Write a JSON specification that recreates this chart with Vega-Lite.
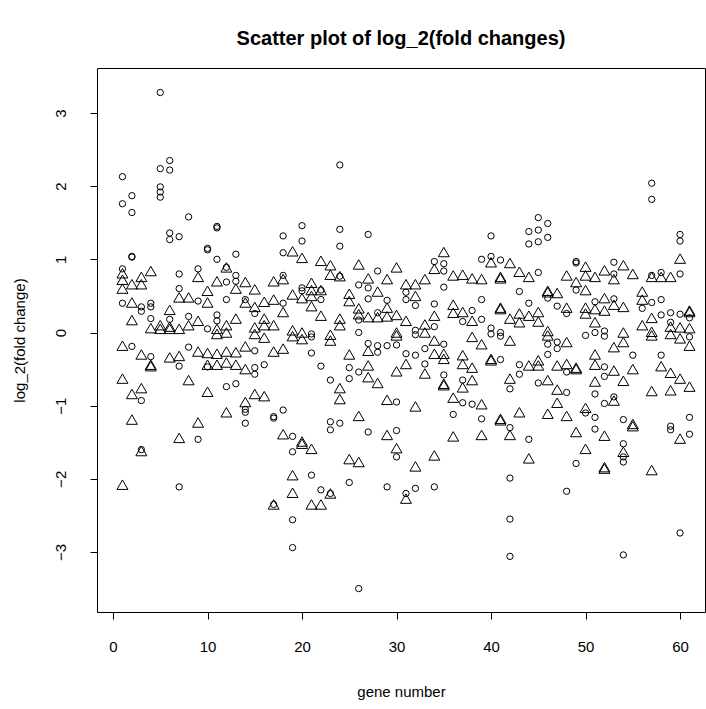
{
  "$schema": "https://vega.github.io/schema/vega-lite/v6.json",
  "width": 608,
  "height": 544,
  "autosize": {"type": "none"},
  "padding": {"left": 97, "top": 68, "right": 1, "bottom": 97},
  "background": "white",
  "config": {"view": {"stroke": "#000", "strokeWidth": 1}, "font": "Liberation Sans"},
  "title": {"text": "Scatter plot of log_2(fold changes)", "fontSize": 20, "fontWeight": "bold", "color": "#000", "offset": 19, "font": "Liberation Sans"},
  "datasets": {
    "pts": [
      {"gene":1,"lfc":2.13,"pch":"c"},{"gene":1,"lfc":1.76,"pch":"c"},{"gene":1,"lfc":0.87,"pch":"c"},{"gene":1,"lfc":0.40,"pch":"c"},
      {"gene":1,"lfc":0.81,"pch":"t"},{"gene":1,"lfc":0.72,"pch":"t"},{"gene":1,"lfc":0.60,"pch":"t"},{"gene":1,"lfc":-0.18,"pch":"t"},{"gene":1,"lfc":-0.63,"pch":"t"},{"gene":1,"lfc":-2.08,"pch":"t"},
      {"gene":2,"lfc":1.87,"pch":"c"},{"gene":2,"lfc":1.64,"pch":"c"},{"gene":2,"lfc":1.03,"pch":"c"},{"gene":2,"lfc":1.04,"pch":"c"},{"gene":2,"lfc":-0.19,"pch":"c"},
      {"gene":2,"lfc":0.66,"pch":"t"},{"gene":2,"lfc":0.41,"pch":"t"},{"gene":2,"lfc":0.17,"pch":"t"},{"gene":2,"lfc":-0.84,"pch":"t"},{"gene":2,"lfc":-1.19,"pch":"t"},
      {"gene":3,"lfc":0.35,"pch":"c"},{"gene":3,"lfc":0.29,"pch":"c"},{"gene":3,"lfc":-0.93,"pch":"c"},{"gene":3,"lfc":-1.60,"pch":"c"},
      {"gene":3,"lfc":0.76,"pch":"t"},{"gene":3,"lfc":0.66,"pch":"t"},{"gene":3,"lfc":-0.30,"pch":"t"},{"gene":3,"lfc":-0.76,"pch":"t"},{"gene":3,"lfc":-1.62,"pch":"t"},
      {"gene":4,"lfc":0.40,"pch":"c"},{"gene":4,"lfc":0.35,"pch":"c"},{"gene":4,"lfc":0.19,"pch":"c"},{"gene":4,"lfc":-0.33,"pch":"c"},
      {"gene":4,"lfc":0.84,"pch":"t"},{"gene":4,"lfc":0.06,"pch":"t"},{"gene":4,"lfc":-0.46,"pch":"t"},{"gene":4,"lfc":-0.44,"pch":"t"},
      {"gene":5,"lfc":3.28,"pch":"c"},{"gene":5,"lfc":2.24,"pch":"c"},{"gene":5,"lfc":1.99,"pch":"c"},{"gene":5,"lfc":1.92,"pch":"c"},{"gene":5,"lfc":1.85,"pch":"c"},
      {"gene":5,"lfc":0.10,"pch":"t"},{"gene":5,"lfc":0.05,"pch":"t"},
      {"gene":6,"lfc":2.35,"pch":"c"},{"gene":6,"lfc":2.22,"pch":"c"},{"gene":6,"lfc":1.36,"pch":"c"},{"gene":6,"lfc":1.27,"pch":"c"},{"gene":6,"lfc":0.18,"pch":"c"},
      {"gene":6,"lfc":0.31,"pch":"t"},{"gene":6,"lfc":0.08,"pch":"t"},{"gene":6,"lfc":-0.34,"pch":"t"},{"gene":6,"lfc":0.05,"pch":"t"},
      {"gene":7,"lfc":1.31,"pch":"c"},{"gene":7,"lfc":0.80,"pch":"c"},{"gene":7,"lfc":0.60,"pch":"c"},{"gene":7,"lfc":-0.46,"pch":"c"},{"gene":7,"lfc":-2.11,"pch":"c"},
      {"gene":7,"lfc":0.48,"pch":"t"},{"gene":7,"lfc":-0.32,"pch":"t"},{"gene":7,"lfc":-1.44,"pch":"t"},{"gene":7,"lfc":0.05,"pch":"t"},
      {"gene":8,"lfc":1.58,"pch":"c"},{"gene":8,"lfc":0.22,"pch":"c"},{"gene":8,"lfc":-0.20,"pch":"c"},
      {"gene":8,"lfc":0.48,"pch":"t"},{"gene":8,"lfc":0.10,"pch":"t"},{"gene":8,"lfc":-0.65,"pch":"t"},
      {"gene":9,"lfc":0.87,"pch":"c"},{"gene":9,"lfc":0.43,"pch":"c"},{"gene":9,"lfc":-1.46,"pch":"c"},
      {"gene":9,"lfc":0.76,"pch":"t"},{"gene":9,"lfc":0.16,"pch":"t"},{"gene":9,"lfc":-0.26,"pch":"t"},{"gene":9,"lfc":-1.23,"pch":"t"},
      {"gene":10,"lfc":1.13,"pch":"c"},{"gene":10,"lfc":1.15,"pch":"c"},{"gene":10,"lfc":0.05,"pch":"c"},{"gene":10,"lfc":-0.47,"pch":"c"},
      {"gene":10,"lfc":0.57,"pch":"t"},{"gene":10,"lfc":0.41,"pch":"t"},{"gene":10,"lfc":-0.28,"pch":"t"},{"gene":10,"lfc":-0.44,"pch":"t"},{"gene":10,"lfc":-0.81,"pch":"t"},
      {"gene":11,"lfc":1.43,"pch":"c"},{"gene":11,"lfc":1.45,"pch":"c"},{"gene":11,"lfc":1.00,"pch":"c"},{"gene":11,"lfc":0.24,"pch":"c"},{"gene":11,"lfc":0.16,"pch":"c"},
      {"gene":11,"lfc":0.70,"pch":"t"},{"gene":11,"lfc":0.05,"pch":"t"},{"gene":11,"lfc":-0.02,"pch":"t"},{"gene":11,"lfc":-0.29,"pch":"t"},{"gene":11,"lfc":-0.44,"pch":"t"},
      {"gene":12,"lfc":0.89,"pch":"c"},{"gene":12,"lfc":0.69,"pch":"c"},{"gene":12,"lfc":0.45,"pch":"c"},{"gene":12,"lfc":-0.74,"pch":"c"},
      {"gene":12,"lfc":0.89,"pch":"t"},{"gene":12,"lfc":0.10,"pch":"t"},{"gene":12,"lfc":0.00,"pch":"t"},{"gene":12,"lfc":-0.26,"pch":"t"},{"gene":12,"lfc":-0.41,"pch":"t"},{"gene":12,"lfc":-1.09,"pch":"t"},
      {"gene":13,"lfc":1.07,"pch":"c"},{"gene":13,"lfc":0.78,"pch":"c"},{"gene":13,"lfc":0.70,"pch":"c"},{"gene":13,"lfc":-0.70,"pch":"c"},
      {"gene":13,"lfc":0.60,"pch":"t"},{"gene":13,"lfc":0.19,"pch":"t"},{"gene":13,"lfc":-0.27,"pch":"t"},{"gene":13,"lfc":-0.44,"pch":"t"},
      {"gene":14,"lfc":0.45,"pch":"c"},{"gene":14,"lfc":-1.05,"pch":"c"},{"gene":14,"lfc":-1.09,"pch":"c"},{"gene":14,"lfc":-1.24,"pch":"c"},
      {"gene":14,"lfc":0.69,"pch":"t"},{"gene":14,"lfc":0.41,"pch":"t"},{"gene":14,"lfc":-0.19,"pch":"t"},{"gene":14,"lfc":-0.50,"pch":"t"},{"gene":14,"lfc":-0.95,"pch":"t"},
      {"gene":15,"lfc":0.26,"pch":"c"},{"gene":15,"lfc":-0.25,"pch":"c"},{"gene":15,"lfc":-0.48,"pch":"c"},{"gene":15,"lfc":-0.57,"pch":"c"},
      {"gene":15,"lfc":0.59,"pch":"t"},{"gene":15,"lfc":0.35,"pch":"t"},{"gene":15,"lfc":0.07,"pch":"t"},{"gene":15,"lfc":-0.02,"pch":"t"},{"gene":15,"lfc":-0.84,"pch":"t"},
      {"gene":16,"lfc":-0.44,"pch":"c"},
      {"gene":16,"lfc":0.42,"pch":"t"},{"gene":16,"lfc":0.19,"pch":"t"},{"gene":16,"lfc":0.10,"pch":"t"},{"gene":16,"lfc":-0.07,"pch":"t"},{"gene":16,"lfc":-0.87,"pch":"t"},
      {"gene":17,"lfc":-1.17,"pch":"c"},{"gene":17,"lfc":-1.15,"pch":"c"},{"gene":17,"lfc":-2.35,"pch":"c"},
      {"gene":17,"lfc":0.70,"pch":"t"},{"gene":17,"lfc":0.45,"pch":"t"},{"gene":17,"lfc":0.10,"pch":"t"},{"gene":17,"lfc":-0.26,"pch":"t"},{"gene":17,"lfc":-2.35,"pch":"t"},
      {"gene":18,"lfc":1.32,"pch":"c"},{"gene":18,"lfc":1.09,"pch":"c"},{"gene":18,"lfc":0.78,"pch":"c"},{"gene":18,"lfc":0.40,"pch":"c"},{"gene":18,"lfc":-1.06,"pch":"c"},
      {"gene":18,"lfc":0.73,"pch":"t"},{"gene":18,"lfc":0.28,"pch":"t"},{"gene":18,"lfc":-0.22,"pch":"t"},{"gene":18,"lfc":-1.39,"pch":"t"},
      {"gene":19,"lfc":-1.42,"pch":"c"},{"gene":19,"lfc":-1.63,"pch":"c"},{"gene":19,"lfc":-2.56,"pch":"c"},{"gene":19,"lfc":-2.94,"pch":"c"},
      {"gene":19,"lfc":1.11,"pch":"t"},{"gene":19,"lfc":0.52,"pch":"t"},{"gene":19,"lfc":0.03,"pch":"t"},{"gene":19,"lfc":-0.05,"pch":"t"},{"gene":19,"lfc":-1.95,"pch":"t"},{"gene":19,"lfc":-2.19,"pch":"t"},
      {"gene":20,"lfc":1.46,"pch":"c"},{"gene":20,"lfc":1.25,"pch":"c"},{"gene":20,"lfc":0.61,"pch":"c"},{"gene":20,"lfc":0.57,"pch":"c"},
      {"gene":20,"lfc":1.02,"pch":"t"},{"gene":20,"lfc":0.47,"pch":"t"},{"gene":20,"lfc":0.00,"pch":"t"},{"gene":20,"lfc":-0.09,"pch":"t"},{"gene":20,"lfc":-1.49,"pch":"t"},{"gene":20,"lfc":-1.52,"pch":"t"},
      {"gene":21,"lfc":-0.02,"pch":"c"},{"gene":21,"lfc":-0.06,"pch":"c"},{"gene":21,"lfc":-0.28,"pch":"c"},{"gene":21,"lfc":-1.95,"pch":"c"},
      {"gene":21,"lfc":0.68,"pch":"t"},{"gene":21,"lfc":0.58,"pch":"t"},{"gene":21,"lfc":0.50,"pch":"t"},{"gene":21,"lfc":0.36,"pch":"t"},{"gene":21,"lfc":-1.59,"pch":"t"},{"gene":21,"lfc":-2.35,"pch":"t"},
      {"gene":22,"lfc":0.58,"pch":"c"},{"gene":22,"lfc":0.45,"pch":"c"},{"gene":22,"lfc":-0.46,"pch":"c"},{"gene":22,"lfc":-2.15,"pch":"c"},
      {"gene":22,"lfc":0.98,"pch":"t"},{"gene":22,"lfc":0.58,"pch":"t"},{"gene":22,"lfc":0.23,"pch":"t"},{"gene":22,"lfc":-2.35,"pch":"t"},
      {"gene":23,"lfc":-0.65,"pch":"c"},{"gene":23,"lfc":-1.22,"pch":"c"},{"gene":23,"lfc":-1.33,"pch":"c"},{"gene":23,"lfc":-2.20,"pch":"c"},
      {"gene":23,"lfc":0.92,"pch":"t"},{"gene":23,"lfc":0.79,"pch":"t"},{"gene":23,"lfc":-0.03,"pch":"t"},{"gene":23,"lfc":-0.11,"pch":"t"},{"gene":23,"lfc":-2.20,"pch":"t"},
      {"gene":24,"lfc":2.29,"pch":"c"},{"gene":24,"lfc":1.41,"pch":"c"},{"gene":24,"lfc":1.18,"pch":"c"},{"gene":24,"lfc":0.77,"pch":"c"},{"gene":24,"lfc":-1.24,"pch":"c"},
      {"gene":24,"lfc":0.77,"pch":"t"},{"gene":24,"lfc":0.19,"pch":"t"},{"gene":24,"lfc":0.10,"pch":"t"},{"gene":24,"lfc":-0.76,"pch":"t"},{"gene":24,"lfc":-0.91,"pch":"t"},
      {"gene":25,"lfc":-0.48,"pch":"c"},{"gene":25,"lfc":-0.63,"pch":"c"},{"gene":25,"lfc":-2.05,"pch":"c"},
      {"gene":25,"lfc":0.53,"pch":"t"},{"gene":25,"lfc":0.43,"pch":"t"},{"gene":25,"lfc":-0.30,"pch":"t"},{"gene":25,"lfc":-1.73,"pch":"t"},
      {"gene":26,"lfc":0.65,"pch":"c"},{"gene":26,"lfc":0.17,"pch":"c"},{"gene":26,"lfc":0.00,"pch":"c"},{"gene":26,"lfc":-0.54,"pch":"c"},{"gene":26,"lfc":-3.50,"pch":"c"},
      {"gene":26,"lfc":0.93,"pch":"t"},{"gene":26,"lfc":0.33,"pch":"t"},{"gene":26,"lfc":0.25,"pch":"t"},{"gene":26,"lfc":-1.14,"pch":"t"},{"gene":26,"lfc":-1.77,"pch":"t"},
      {"gene":27,"lfc":1.34,"pch":"c"},{"gene":27,"lfc":0.61,"pch":"c"},{"gene":27,"lfc":0.46,"pch":"c"},{"gene":27,"lfc":-0.15,"pch":"c"},{"gene":27,"lfc":-1.36,"pch":"c"},
      {"gene":27,"lfc":0.74,"pch":"t"},{"gene":27,"lfc":0.21,"pch":"t"},{"gene":27,"lfc":-0.25,"pch":"t"},{"gene":27,"lfc":-0.45,"pch":"t"},{"gene":27,"lfc":-0.61,"pch":"t"},
      {"gene":28,"lfc":0.84,"pch":"c"},{"gene":28,"lfc":0.27,"pch":"c"},{"gene":28,"lfc":-0.18,"pch":"c"},{"gene":28,"lfc":-0.27,"pch":"c"},
      {"gene":28,"lfc":0.56,"pch":"t"},{"gene":28,"lfc":0.21,"pch":"t"},{"gene":28,"lfc":-0.69,"pch":"t"},
      {"gene":29,"lfc":0.44,"pch":"c"},{"gene":29,"lfc":-0.18,"pch":"c"},{"gene":29,"lfc":-2.11,"pch":"c"},
      {"gene":29,"lfc":0.73,"pch":"t"},{"gene":29,"lfc":0.34,"pch":"t"},{"gene":29,"lfc":0.22,"pch":"t"},{"gene":29,"lfc":-0.92,"pch":"t"},{"gene":29,"lfc":-1.40,"pch":"t"},
      {"gene":30,"lfc":-0.17,"pch":"c"},{"gene":30,"lfc":-0.95,"pch":"c"},{"gene":30,"lfc":-1.34,"pch":"c"},{"gene":30,"lfc":-1.70,"pch":"c"},
      {"gene":30,"lfc":0.89,"pch":"t"},{"gene":30,"lfc":0.24,"pch":"t"},{"gene":30,"lfc":0.00,"pch":"t"},{"gene":30,"lfc":-0.04,"pch":"t"},{"gene":30,"lfc":-0.53,"pch":"t"},{"gene":30,"lfc":-1.58,"pch":"t"},
      {"gene":31,"lfc":0.55,"pch":"c"},{"gene":31,"lfc":0.45,"pch":"c"},{"gene":31,"lfc":-0.29,"pch":"c"},{"gene":31,"lfc":-2.20,"pch":"c"},
      {"gene":31,"lfc":0.66,"pch":"t"},{"gene":31,"lfc":0.16,"pch":"t"},{"gene":31,"lfc":-0.43,"pch":"t"},{"gene":31,"lfc":-2.27,"pch":"t"},
      {"gene":32,"lfc":0.37,"pch":"c"},{"gene":32,"lfc":0.03,"pch":"c"},{"gene":32,"lfc":-0.03,"pch":"c"},{"gene":32,"lfc":-0.31,"pch":"c"},{"gene":32,"lfc":-2.13,"pch":"c"},
      {"gene":32,"lfc":0.66,"pch":"t"},{"gene":32,"lfc":0.50,"pch":"t"},{"gene":32,"lfc":-1.01,"pch":"t"},{"gene":32,"lfc":-1.83,"pch":"t"},
      {"gene":33,"lfc":-0.22,"pch":"c"},{"gene":33,"lfc":-0.43,"pch":"c"},
      {"gene":33,"lfc":0.73,"pch":"t"},{"gene":33,"lfc":0.11,"pch":"t"},{"gene":33,"lfc":0.00,"pch":"t"},{"gene":33,"lfc":-0.56,"pch":"t"},
      {"gene":34,"lfc":0.97,"pch":"c"},{"gene":34,"lfc":0.39,"pch":"c"},{"gene":34,"lfc":0.08,"pch":"c"},{"gene":34,"lfc":-2.11,"pch":"c"},
      {"gene":34,"lfc":0.87,"pch":"t"},{"gene":34,"lfc":0.23,"pch":"t"},{"gene":34,"lfc":-0.11,"pch":"t"},{"gene":34,"lfc":-0.29,"pch":"t"},{"gene":34,"lfc":-1.68,"pch":"t"},
      {"gene":35,"lfc":0.94,"pch":"c"},{"gene":35,"lfc":0.84,"pch":"c"},{"gene":35,"lfc":0.62,"pch":"c"},{"gene":35,"lfc":-0.16,"pch":"c"},{"gene":35,"lfc":-0.58,"pch":"c"},
      {"gene":35,"lfc":1.10,"pch":"t"},{"gene":35,"lfc":-0.29,"pch":"t"},{"gene":35,"lfc":-0.36,"pch":"t"},{"gene":35,"lfc":-0.70,"pch":"t"},{"gene":35,"lfc":-0.72,"pch":"t"},
      {"gene":36,"lfc":-1.12,"pch":"c"},
      {"gene":36,"lfc":0.78,"pch":"t"},{"gene":36,"lfc":0.38,"pch":"t"},{"gene":36,"lfc":0.27,"pch":"t"},{"gene":36,"lfc":-0.89,"pch":"t"},{"gene":36,"lfc":-1.42,"pch":"t"},
      {"gene":37,"lfc":0.15,"pch":"c"},{"gene":37,"lfc":-0.65,"pch":"c"},{"gene":37,"lfc":-0.96,"pch":"c"},
      {"gene":37,"lfc":0.79,"pch":"t"},{"gene":37,"lfc":0.28,"pch":"t"},{"gene":37,"lfc":-0.31,"pch":"t"},{"gene":37,"lfc":-0.43,"pch":"t"},{"gene":37,"lfc":-0.75,"pch":"t"},
      {"gene":38,"lfc":0.30,"pch":"c"},{"gene":38,"lfc":-0.98,"pch":"c"},
      {"gene":38,"lfc":0.74,"pch":"t"},{"gene":38,"lfc":0.16,"pch":"t"},{"gene":38,"lfc":-0.06,"pch":"t"},{"gene":38,"lfc":-0.48,"pch":"t"},{"gene":38,"lfc":-0.65,"pch":"t"},
      {"gene":39,"lfc":1.00,"pch":"c"},{"gene":39,"lfc":0.45,"pch":"c"},{"gene":39,"lfc":0.18,"pch":"c"},{"gene":39,"lfc":-1.18,"pch":"c"},
      {"gene":39,"lfc":0.73,"pch":"t"},{"gene":39,"lfc":-0.16,"pch":"t"},{"gene":39,"lfc":-0.98,"pch":"t"},{"gene":39,"lfc":-1.40,"pch":"t"},
      {"gene":40,"lfc":1.32,"pch":"c"},{"gene":40,"lfc":1.04,"pch":"c"},{"gene":40,"lfc":0.06,"pch":"c"},{"gene":40,"lfc":-0.02,"pch":"c"},
      {"gene":40,"lfc":0.96,"pch":"t"},{"gene":40,"lfc":-0.38,"pch":"t"},{"gene":40,"lfc":-0.36,"pch":"t"},
      {"gene":41,"lfc":0.99,"pch":"c"},{"gene":41,"lfc":0.00,"pch":"c"},{"gene":41,"lfc":-0.05,"pch":"c"},{"gene":41,"lfc":-0.37,"pch":"c"},
      {"gene":41,"lfc":0.76,"pch":"t"},{"gene":41,"lfc":0.74,"pch":"t"},{"gene":41,"lfc":0.34,"pch":"t"},{"gene":41,"lfc":0.32,"pch":"t"},{"gene":41,"lfc":-1.20,"pch":"t"},{"gene":41,"lfc":-1.18,"pch":"t"},
      {"gene":42,"lfc":-0.77,"pch":"c"},{"gene":42,"lfc":-1.30,"pch":"c"},{"gene":42,"lfc":-1.99,"pch":"c"},{"gene":42,"lfc":-2.55,"pch":"c"},{"gene":42,"lfc":-3.06,"pch":"c"},
      {"gene":42,"lfc":0.95,"pch":"t"},{"gene":42,"lfc":0.19,"pch":"t"},{"gene":42,"lfc":-0.11,"pch":"t"},{"gene":42,"lfc":-0.63,"pch":"t"},{"gene":42,"lfc":-1.40,"pch":"t"},
      {"gene":43,"lfc":0.56,"pch":"c"},{"gene":43,"lfc":-0.44,"pch":"c"},{"gene":43,"lfc":-0.57,"pch":"c"},
      {"gene":43,"lfc":0.83,"pch":"t"},{"gene":43,"lfc":0.26,"pch":"t"},{"gene":43,"lfc":0.14,"pch":"t"},{"gene":43,"lfc":-1.09,"pch":"t"},
      {"gene":44,"lfc":1.38,"pch":"c"},{"gene":44,"lfc":1.21,"pch":"c"},{"gene":44,"lfc":0.40,"pch":"c"},{"gene":44,"lfc":-1.46,"pch":"c"},
      {"gene":44,"lfc":0.76,"pch":"t"},{"gene":44,"lfc":0.23,"pch":"t"},{"gene":44,"lfc":-0.45,"pch":"t"},{"gene":44,"lfc":-1.72,"pch":"t"},
      {"gene":45,"lfc":1.57,"pch":"c"},{"gene":45,"lfc":1.40,"pch":"c"},{"gene":45,"lfc":1.24,"pch":"c"},{"gene":45,"lfc":0.82,"pch":"c"},{"gene":45,"lfc":-0.69,"pch":"c"},
      {"gene":45,"lfc":0.28,"pch":"t"},{"gene":45,"lfc":0.15,"pch":"t"},{"gene":45,"lfc":-0.38,"pch":"t"},{"gene":45,"lfc":-0.45,"pch":"t"},
      {"gene":46,"lfc":1.49,"pch":"c"},{"gene":46,"lfc":1.30,"pch":"c"},{"gene":46,"lfc":0.47,"pch":"c"},{"gene":46,"lfc":-0.16,"pch":"c"},{"gene":46,"lfc":-0.30,"pch":"c"},
      {"gene":46,"lfc":0.55,"pch":"t"},{"gene":46,"lfc":0.57,"pch":"t"},{"gene":46,"lfc":0.02,"pch":"t"},{"gene":46,"lfc":-0.04,"pch":"t"},{"gene":46,"lfc":-0.65,"pch":"t"},{"gene":46,"lfc":-1.11,"pch":"t"},
      {"gene":47,"lfc":0.36,"pch":"c"},{"gene":47,"lfc":-0.13,"pch":"c"},{"gene":47,"lfc":-0.22,"pch":"c"},
      {"gene":47,"lfc":0.54,"pch":"t"},{"gene":47,"lfc":-0.45,"pch":"t"},{"gene":47,"lfc":-0.78,"pch":"t"},{"gene":47,"lfc":-0.96,"pch":"t"},
      {"gene":48,"lfc":0.26,"pch":"c"},{"gene":48,"lfc":-0.54,"pch":"c"},{"gene":48,"lfc":-0.82,"pch":"c"},{"gene":48,"lfc":-2.17,"pch":"c"},
      {"gene":48,"lfc":0.78,"pch":"t"},{"gene":48,"lfc":0.34,"pch":"t"},{"gene":48,"lfc":-0.13,"pch":"t"},{"gene":48,"lfc":-0.43,"pch":"t"},{"gene":48,"lfc":-1.14,"pch":"t"},
      {"gene":49,"lfc":0.97,"pch":"c"},{"gene":49,"lfc":0.95,"pch":"c"},{"gene":49,"lfc":0.58,"pch":"c"},{"gene":49,"lfc":-1.79,"pch":"c"},
      {"gene":49,"lfc":0.69,"pch":"t"},{"gene":49,"lfc":-0.50,"pch":"t"},{"gene":49,"lfc":-0.48,"pch":"t"},{"gene":49,"lfc":-1.36,"pch":"t"},
      {"gene":50,"lfc":-0.04,"pch":"c"},{"gene":50,"lfc":-1.10,"pch":"c"},
      {"gene":50,"lfc":0.90,"pch":"t"},{"gene":50,"lfc":0.78,"pch":"t"},{"gene":50,"lfc":0.58,"pch":"t"},{"gene":50,"lfc":0.34,"pch":"t"},{"gene":50,"lfc":0.26,"pch":"t"},{"gene":50,"lfc":-1.03,"pch":"t"},{"gene":50,"lfc":-1.59,"pch":"t"},
      {"gene":51,"lfc":0.42,"pch":"c"},{"gene":51,"lfc":0.00,"pch":"c"},{"gene":51,"lfc":-0.84,"pch":"c"},{"gene":51,"lfc":-1.16,"pch":"c"},{"gene":51,"lfc":-1.32,"pch":"c"},
      {"gene":51,"lfc":0.76,"pch":"t"},{"gene":51,"lfc":0.32,"pch":"t"},{"gene":51,"lfc":0.14,"pch":"t"},{"gene":51,"lfc":-0.30,"pch":"t"},{"gene":51,"lfc":-0.44,"pch":"t"},{"gene":51,"lfc":-0.67,"pch":"t"},
      {"gene":52,"lfc":0.02,"pch":"c"},{"gene":52,"lfc":-0.05,"pch":"c"},{"gene":52,"lfc":-0.47,"pch":"c"},{"gene":52,"lfc":-0.60,"pch":"c"},{"gene":52,"lfc":-0.97,"pch":"c"},
      {"gene":52,"lfc":0.85,"pch":"t"},{"gene":52,"lfc":0.47,"pch":"t"},{"gene":52,"lfc":0.30,"pch":"t"},{"gene":52,"lfc":-1.41,"pch":"t"},{"gene":52,"lfc":-1.86,"pch":"t"},{"gene":52,"lfc":-1.84,"pch":"t"},
      {"gene":53,"lfc":0.96,"pch":"c"},{"gene":53,"lfc":0.80,"pch":"c"},{"gene":53,"lfc":0.46,"pch":"c"},{"gene":53,"lfc":-0.88,"pch":"c"},
      {"gene":53,"lfc":0.73,"pch":"t"},{"gene":53,"lfc":0.38,"pch":"t"},{"gene":53,"lfc":-0.20,"pch":"t"},{"gene":53,"lfc":-0.52,"pch":"t"},{"gene":53,"lfc":-0.93,"pch":"t"},
      {"gene":54,"lfc":-1.19,"pch":"c"},{"gene":54,"lfc":-1.52,"pch":"c"},{"gene":54,"lfc":-1.70,"pch":"c"},{"gene":54,"lfc":-1.77,"pch":"c"},{"gene":54,"lfc":-3.04,"pch":"c"},
      {"gene":54,"lfc":0.92,"pch":"t"},{"gene":54,"lfc":0.35,"pch":"t"},{"gene":54,"lfc":0.00,"pch":"t"},{"gene":54,"lfc":-0.13,"pch":"t"},{"gene":54,"lfc":-0.66,"pch":"t"},{"gene":54,"lfc":-1.63,"pch":"t"},
      {"gene":55,"lfc":-0.31,"pch":"c"},
      {"gene":55,"lfc":0.80,"pch":"t"},{"gene":55,"lfc":-0.50,"pch":"t"},{"gene":55,"lfc":-1.25,"pch":"t"},{"gene":55,"lfc":-1.28,"pch":"t"},
      {"gene":56,"lfc":0.33,"pch":"c"},
      {"gene":56,"lfc":0.56,"pch":"t"},{"gene":56,"lfc":0.45,"pch":"t"},{"gene":56,"lfc":0.10,"pch":"t"},
      {"gene":57,"lfc":2.04,"pch":"c"},{"gene":57,"lfc":1.82,"pch":"c"},{"gene":57,"lfc":0.78,"pch":"c"},{"gene":57,"lfc":0.41,"pch":"c"},
      {"gene":57,"lfc":0.76,"pch":"t"},{"gene":57,"lfc":0.20,"pch":"t"},{"gene":57,"lfc":0.01,"pch":"t"},{"gene":57,"lfc":-0.04,"pch":"t"},{"gene":57,"lfc":-0.80,"pch":"t"},{"gene":57,"lfc":-1.88,"pch":"t"},
      {"gene":58,"lfc":0.82,"pch":"c"},{"gene":58,"lfc":0.45,"pch":"c"},{"gene":58,"lfc":0.24,"pch":"c"},{"gene":58,"lfc":-0.31,"pch":"c"},
      {"gene":58,"lfc":0.76,"pch":"t"},{"gene":58,"lfc":-0.46,"pch":"t"},
      {"gene":59,"lfc":0.27,"pch":"c"},{"gene":59,"lfc":0.14,"pch":"c"},{"gene":59,"lfc":-1.28,"pch":"c"},{"gene":59,"lfc":-1.33,"pch":"c"},
      {"gene":59,"lfc":0.76,"pch":"t"},{"gene":59,"lfc":0.08,"pch":"t"},{"gene":59,"lfc":-0.02,"pch":"t"},{"gene":59,"lfc":-0.55,"pch":"t"},{"gene":59,"lfc":-0.79,"pch":"t"},
      {"gene":60,"lfc":1.34,"pch":"c"},{"gene":60,"lfc":1.25,"pch":"c"},{"gene":60,"lfc":0.80,"pch":"c"},{"gene":60,"lfc":0.25,"pch":"c"},{"gene":60,"lfc":-2.74,"pch":"c"},
      {"gene":60,"lfc":1.01,"pch":"t"},{"gene":60,"lfc":0.07,"pch":"t"},{"gene":60,"lfc":-0.08,"pch":"t"},{"gene":60,"lfc":-0.63,"pch":"t"},{"gene":60,"lfc":-1.45,"pch":"t"},
      {"gene":61,"lfc":0.20,"pch":"c"},{"gene":61,"lfc":-0.06,"pch":"c"},{"gene":61,"lfc":-1.16,"pch":"c"},{"gene":61,"lfc":-1.39,"pch":"c"},
      {"gene":61,"lfc":0.30,"pch":"t"},{"gene":61,"lfc":0.28,"pch":"t"},{"gene":61,"lfc":0.06,"pch":"t"},{"gene":61,"lfc":-0.18,"pch":"t"},{"gene":61,"lfc":-0.74,"pch":"t"}
    ]
  },
  "data": {"name": "pts"},
  "mark": {"type": "point", "filled": false, "stroke": "#000", "strokeWidth": 1, "opacity": 1, "clip": true},
  "encoding": {
    "x": {
      "field": "gene", "type": "quantitative",
      "scale": {"domain": [-1.693, 62.64], "nice": false, "zero": false},
      "axis": {
        "values": [0, 10, 20, 30, 40, 50, 60], "grid": false, "domain": false,
        "tickColor": "#000", "tickSize": 7, "labelFontSize": 15, "labelColor": "#000",
        "labelPadding": 20, "title": "gene number", "titleFontSize": 15, "titleFontWeight": "normal",
        "titleColor": "#000", "titlePadding": 30, "labelFont": "Liberation Sans", "titleFont": "Liberation Sans"
      }
    },
    "y": {
      "field": "lfc", "type": "quantitative",
      "scale": {"domain": [-3.82, 3.615], "nice": false, "zero": false},
      "axis": {
        "values": [-3, -2, -1, 0, 1, 2, 3], "grid": false, "domain": false,
        "tickColor": "#000", "tickSize": 7, "labelFontSize": 15, "labelColor": "#000",
        "labelAngle": -90, "labelAlign": "center", "labelBaseline": "bottom", "labelPadding": 22,
        "title": "log_2(fold change)", "titleFontSize": 15, "titleFontWeight": "normal",
        "titleColor": "#000", "titlePadding": 26, "labelFont": "Liberation Sans", "titleFont": "Liberation Sans"
      }
    },
    "shape": {"field": "pch", "type": "nominal", "scale": {"domain": ["c", "t"], "range": ["circle", "triangle-up"]}, "legend": null},
    "size": {"field": "pch", "type": "nominal", "scale": {"domain": ["c", "t"], "range": [40, 120]}, "legend": null}
  }
}
